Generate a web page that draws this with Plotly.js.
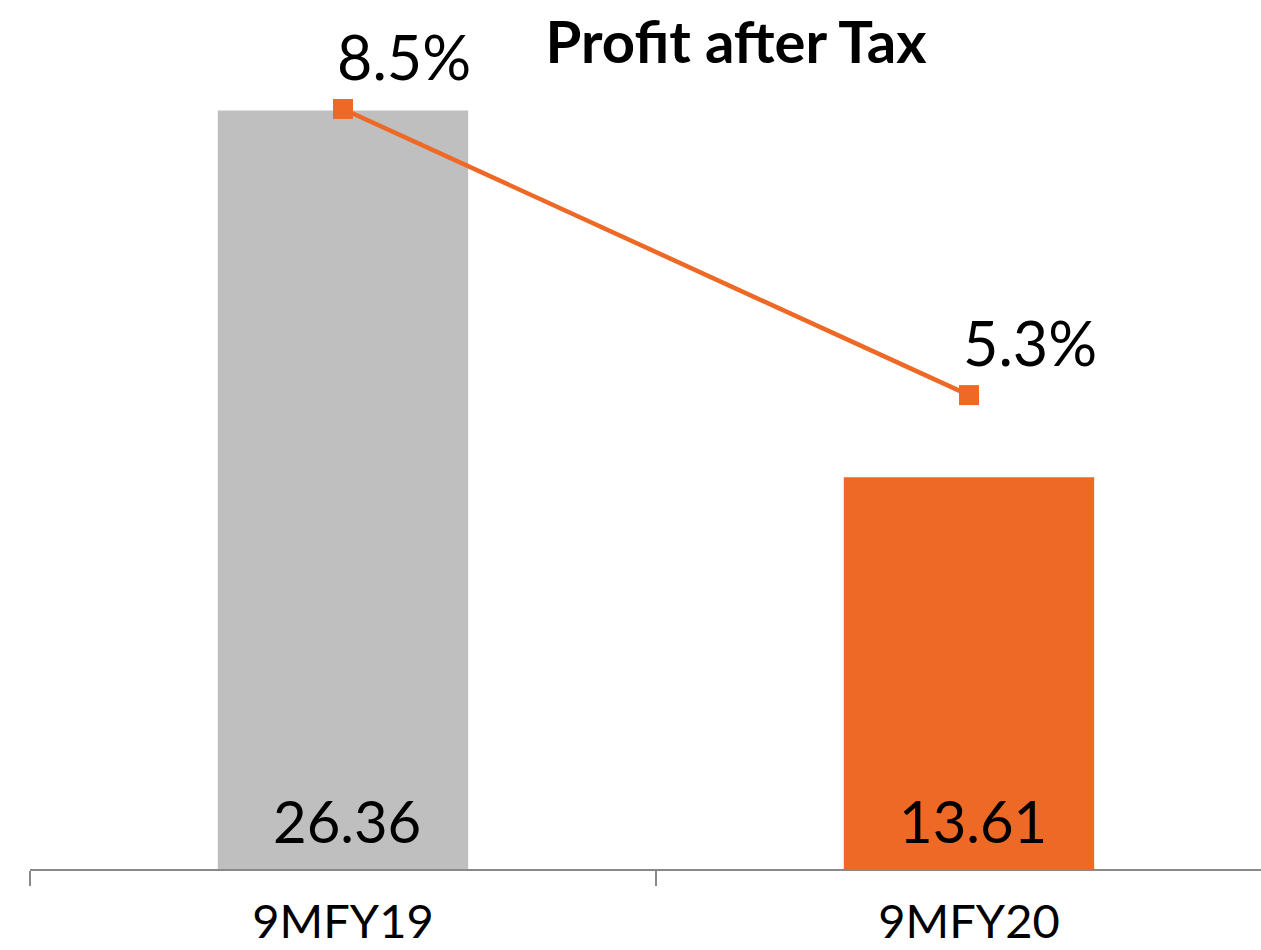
<!DOCTYPE html>
<html><head><meta charset="utf-8">
<script src="https://cdn.plot.ly/plotly-3.0.1.min.js"></script>
<style>html,body{margin:0;padding:0;background:#fff;overflow:hidden}</style>
</head><body><div id="chart" style="width:1261px;height:950px"></div>
<script>
const categories = ['9MFY19', '9MFY20'];
const patValues = [26.36, 13.61];
const patLabels = ['26.36', '13.61'];
const marginValues = [8.5, 5.3];
const marginLabels = ['8.5%', '5.3%'];
const barColors = ['#BFBFBF', '#ED6925'];
const lineColor = '#ED6925';
const FONT = 'Lato, "Open Sans", "DejaVu Sans", sans-serif';

const bars = {
  type: 'bar', x: categories, y: patValues, width: 0.4,
  marker: {color: barColors, line: {width: 0}},
  hoverinfo: 'skip', cliponaxis: false
};
const line = {
  type: 'scatter', mode: 'lines+markers', x: categories, y: marginValues, yaxis: 'y2',
  line: {color: lineColor, width: 4.5},
  marker: {symbol: 'square', size: 20, color: lineColor},
  hoverinfo: 'skip', cliponaxis: false
};
const barLabelAnns = patValues.map((v, i) => ({
  x: categories[i], y: 0, xref: 'x', yref: 'y', text: patLabels[i],
  showarrow: false, xanchor: 'center', yanchor: 'bottom', yshift: 12, xshift: 4,
  font: {family: FONT, size: 58, color: '#000'}
}));
const marginAnns = marginValues.map((v, i) => ({
  x: categories[i], y: v, xref: 'x', yref: 'y2', text: marginLabels[i],
  showarrow: false, xanchor: 'left', yanchor: 'bottom', xshift: -8, yshift: 14,
  font: {family: FONT, size: 61, color: '#000'}
}));
const layout = {
  width: 1261, height: 950,
  margin: {l: 30, r: 0, t: 69, b: 81, pad: 0},
  paper_bgcolor: '#fff', plot_bgcolor: '#fff',
  showlegend: false,
  title: {text: '<b>Profit after Tax</b>', x: 736/1261, xanchor: 'center', xref: 'container',
          y: 1 - 22/950, yanchor: 'top', yref: 'container',
          font: {family: FONT, size: 58, color: '#000'}},
  xaxis: {type: 'category', range: [-0.5, 1.4665], showline: true, linecolor: '#898989', linewidth: 2,
          ticks: 'outside', ticklen: 15, tickwidth: 2, tickcolor: '#898989', tickson: 'boundaries',
          ticklabelstandoff: 11,
          tickfont: {family: FONT, size: 47, color: '#000'}, showgrid: false, zeroline: false, fixedrange: true},
  yaxis: {range: [0, 27.80], visible: false, showgrid: false, zeroline: false, fixedrange: true},
  yaxis2: {range: [0, 8.947], overlaying: 'y', visible: false, showgrid: false, zeroline: false, fixedrange: true},
  annotations: barLabelAnns.concat(marginAnns)
};
Plotly.newPlot('chart', [bars, line], layout, {displayModeBar: false, staticPlot: true});
</script></body></html>
